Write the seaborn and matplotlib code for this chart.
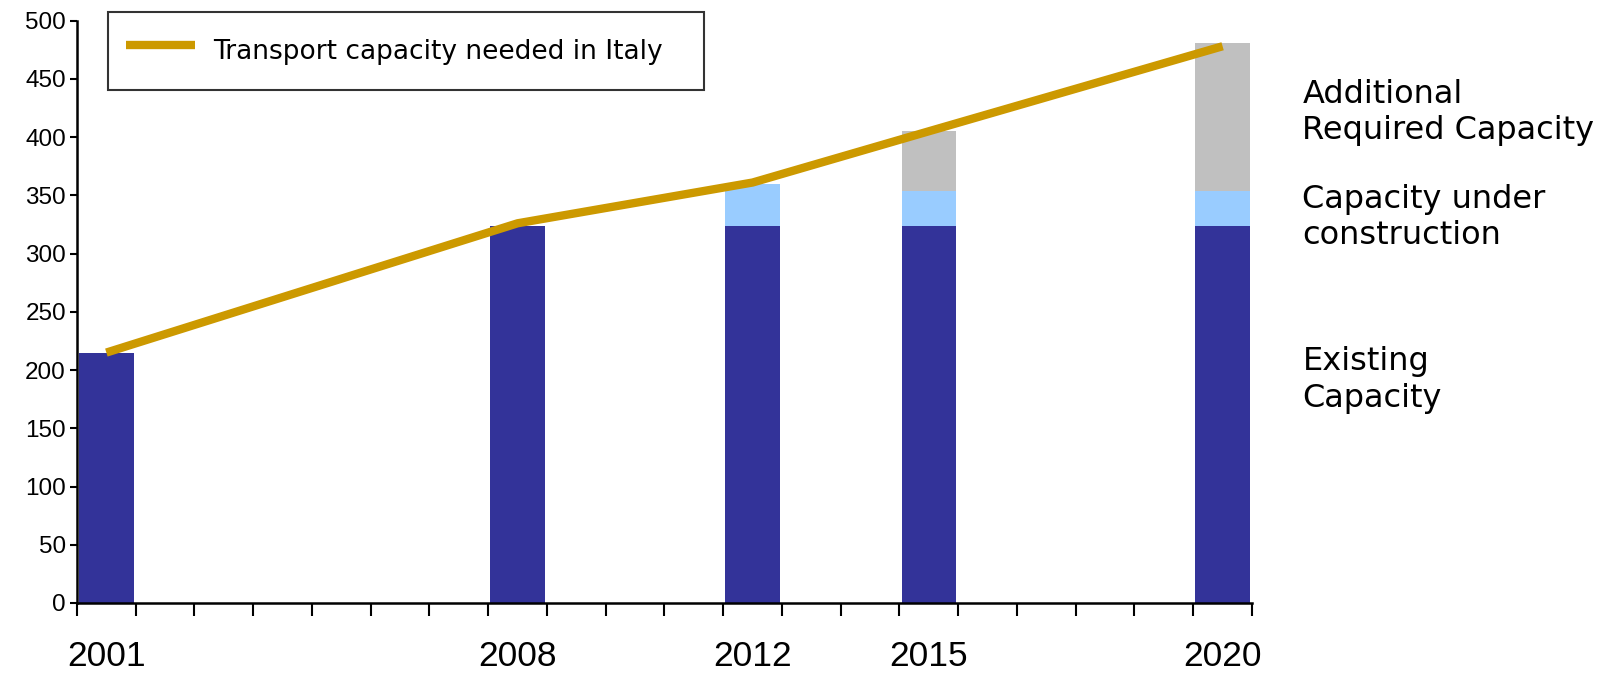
import matplotlib
matplotlib.use("Agg")
import matplotlib.pyplot as plt
import seaborn as sns
import pandas as pd

# Years on the axis (one slot per year) and the ones that carry data
years = list(range(2001, 2021))
bar_years = [2001, 2008, 2012, 2015, 2020]
existing = [215, 324, 324, 324, 324]
under_construction = [0, 0, 36, 30, 30]
additional = [0, 0, 0, 51, 127]
needed_years = [2001, 2008, 2012, 2015, 2020]
needed = [215, 326, 361, 405, 478]
label_years = ["2001", "2008", "2012", "2015", "2020"]

sns.set_theme(style="white")
plt.rcParams["font.family"] = ["Liberation Sans", "DejaVu Sans"]
plt.rcParams["text.color"] = "black"
plt.rcParams["xtick.color"] = "black"
plt.rcParams["ytick.color"] = "black"

c_exist = "#333399"
c_constr = "#99CCFF"
c_add = "#C0C0C0"
c_line = "#CC9900"

df = pd.DataFrame({
    "year": [str(y) for y in bar_years],
    "existing": existing,
    "constr": under_construction,
    "add": additional,
})
df["lvl2"] = df["existing"] + df["constr"]
df["lvl3"] = df["lvl2"] + df["add"]
order = [str(y) for y in years]

fig = plt.figure(figsize=(16.14, 6.76), dpi=100)
ax = fig.add_axes([0.0477, 0.108, 0.7280, 0.8615])

# Stacked columns drawn as overlapping cumulative totals
for col, color in [("lvl3", c_add), ("lvl2", c_constr), ("existing", c_exist)]:
    sns.barplot(data=df, x="year", y=col, order=order, color=color,
                width=0.93, saturation=1, ax=ax, errorbar=None, linewidth=0)

line_df = pd.DataFrame({"pos": [y - years[0] for y in needed_years], "val": needed})
sns.lineplot(data=line_df, x="pos", y="val", color=c_line, linewidth=6,
             ax=ax, label="Transport capacity needed in Italy",
             solid_capstyle="butt", zorder=5)

ax.set_xlim(-0.5, len(years) - 0.5)
ax.set_ylim(0, 500)
ax.set_yticks(range(0, 501, 50))
ax.set_xlabel("")
ax.set_ylabel("")

# Year labels at slot centres, tick marks at slot boundaries
ax.set_xticks([int(y) - years[0] for y in label_years])
ax.set_xticklabels(label_years, fontsize=25.5)
ax.set_xticks([i - 0.5 for i in range(len(years) + 1)], minor=True)
ax.tick_params(axis="x", which="major", length=0, pad=27)
ax.tick_params(axis="x", which="minor", length=9, width=1.5, color="black",
               direction="out", bottom=True)
ax.tick_params(axis="y", which="major", length=5, width=1.5, color="black",
               direction="out", left=True, labelsize=17.5, pad=3)

for s in ["top", "right"]:
    ax.spines[s].set_visible(False)
for s in ["left", "bottom"]:
    ax.spines[s].set_color("black")
    ax.spines[s].set_linewidth(1.8)

leg = ax.legend(loc="upper left", bbox_to_anchor=(0.0669, 0.982, 0.369, 0.0),
                bbox_transform=fig.transFigure, mode="expand",
                prop={"family": "DejaVu Sans", "size": 19},
                handlelength=2.6, handleheight=2.0, handletextpad=0.7,
                borderpad=0.7, borderaxespad=0, fancybox=False, frameon=True)
leg.get_frame().set_edgecolor("black")
leg.get_frame().set_linewidth(1.5)
for t in leg.get_texts():
    t.set_color("black")

side_kw = dict(transform=fig.transFigure, ha="left", va="center",
               fontsize=23, family="DejaVu Sans", color="black", linespacing=1.22)
fig.text(0.807, 1 - 112.7 / 676, "Additional\nRequired Capacity", **side_kw)
fig.text(0.807, 1 - 217.7 / 676, "Capacity under\nconstruction", **side_kw)
fig.text(0.807, 1 - 380 / 676, "Existing\nCapacity", **side_kw)

fig.savefig("out.png", dpi=100)
